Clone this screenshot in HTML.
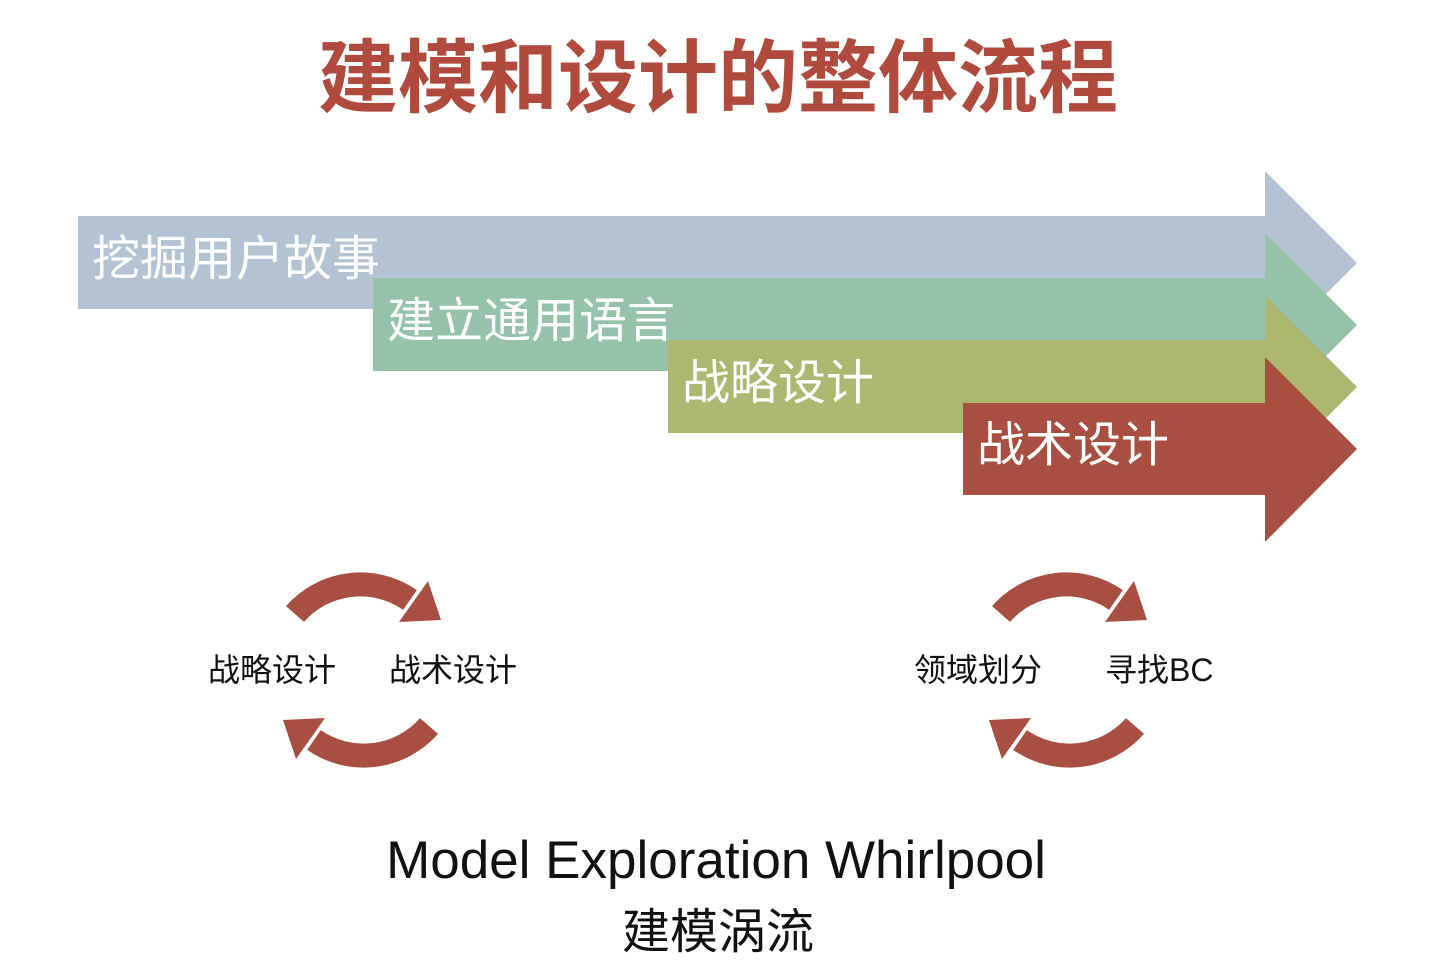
<!DOCTYPE html>
<html><head><meta charset="utf-8"><style>
body{margin:0;width:1442px;height:968px;background:#fff;overflow:hidden;font-family:"Liberation Sans","Noto Sans CJK SC",sans-serif}
svg{position:absolute;left:0;top:0}
</style></head><body>
<svg width="1442" height="968" viewBox="0 0 1442 968">
<defs>
<g id="cyc">
 <path d="M295,614 A87,87 0 0 1 410,600" fill="none" stroke="#a84f42" stroke-width="24"/>
 <polygon points="399,622 428,581 441,620" fill="#a84f42"/>
 <g transform="rotate(180 362 670)">
 <path d="M295,614 A87,87 0 0 1 410,600" fill="none" stroke="#a84f42" stroke-width="24"/>
 <polygon points="399,622 428,581 441,620" fill="#a84f42"/>
 </g>
</g>
</defs>
<text x="718" y="106" text-anchor="middle" font-size="80" font-weight="bold" fill="#b04a3d" font-family="Liberation Sans,Noto Sans CJK SC,sans-serif">建模和设计的整体流程</text>
<polygon points="78,216 1265,216 1265,171 1357,263 1265,355 1265,309 78,309" fill="#b3c3d4"/>
<polygon points="373,278 1265,278 1265,233 1357,325 1265,417 1265,371 373,371" fill="#94c3a9"/>
<polygon points="668,340 1265,340 1265,295 1357,387 1265,479 1265,433 668,433" fill="#adb770"/>
<polygon points="963,403 1265,403 1265,357 1357,449 1265,542 1265,495 963,495" fill="#a84f42"/>
<g fill="#fff" font-size="48" font-family="Liberation Sans,Noto Sans CJK SC,sans-serif">
<text x="92" y="275">挖掘用户故事</text>
<text x="387" y="337">建立通用语言</text>
<text x="682" y="399">战略设计</text>
<text x="977" y="461">战术设计</text>
</g>
<use href="#cyc"/>
<use href="#cyc" transform="translate(706,0)"/>
<g font-size="32" fill="#111" font-family="Liberation Sans,Noto Sans CJK SC,sans-serif">
<text x="208" y="681">战略设计</text>
<text x="389" y="681">战术设计</text>
<text x="914" y="681">领域划分</text>
<text x="1105" y="681">寻找BC</text>
</g>
<text x="716" y="878" text-anchor="middle" font-size="53" fill="#111" font-family="Liberation Sans,Noto Sans CJK SC,sans-serif">Model Exploration Whirlpool</text>
<text x="718" y="948" text-anchor="middle" font-size="48" fill="#111" font-family="Liberation Sans,Noto Sans CJK SC,sans-serif">建模涡流</text>
</svg>
</body></html>
